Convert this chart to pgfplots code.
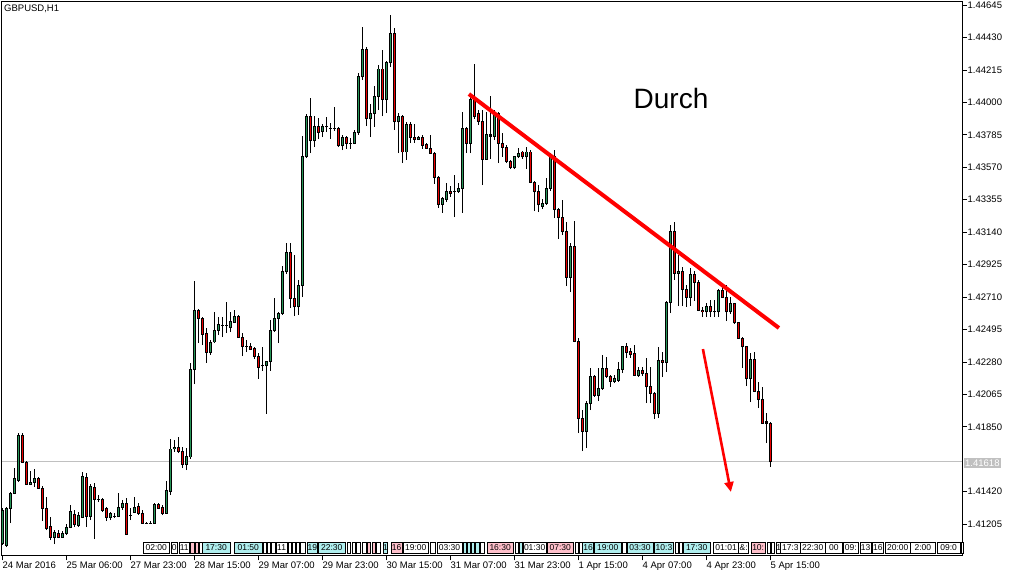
\documentclass[border=0pt]{standalone}
\usepackage{fontspec}
\setmainfont{Liberation Sans}
\usepackage{pgfplots}
\usepackage{pgfplotstable}
\pgfplotsset{compat=1.18}
\usetikzlibrary{arrows.meta}

\definecolor{bull}{RGB}{38,150,88}
\definecolor{bear}{RGB}{235,0,0}
\definecolor{bidgray}{RGB}{192,192,192}
\definecolor{evcyan}{RGB}{175,238,238}
\definecolor{evpink}{RGB}{255,192,203}

% hourly GBPUSD candles: index, open, high, low, close
\pgfplotstableread{
k o h l c
0 1.41080 1.41312 1.41066 1.41298
1 1.41066 1.41318 1.41053 1.41312
2 1.41312 1.41418 1.41212 1.41411
3 1.41411 1.41577 1.41404 1.41510
4 1.41497 1.41809 1.41484 1.41795
5 1.41795 1.41809 1.41610 1.41616
6 1.41616 1.41623 1.41464 1.41471
7 1.41471 1.41557 1.41464 1.41484
8 1.41484 1.41570 1.41451 1.41510
9 1.41510 1.41517 1.41438 1.41444
10 1.41444 1.41457 1.41225 1.41312
11 1.41312 1.41385 1.41166 1.41179
12 1.41192 1.41252 1.41100 1.41119
13 1.41119 1.41166 1.41073 1.41153
14 1.41146 1.41166 1.41113 1.41119
15 1.41119 1.41159 1.41113 1.41146
16 1.41146 1.41206 1.41133 1.41186
17 1.41186 1.41332 1.41179 1.41292
18 1.41272 1.41298 1.41186 1.41206
19 1.41199 1.41285 1.41186 1.41265
20 1.41252 1.41550 1.41245 1.41524
21 1.41517 1.41544 1.41186 1.41259
22 1.41259 1.41471 1.41232 1.41457
23 1.41451 1.41477 1.41106 1.41371
24 1.41371 1.41398 1.41351 1.41371
25 1.41371 1.41378 1.41285 1.41298
26 1.41312 1.41318 1.41225 1.41252
27 1.41252 1.41285 1.41232 1.41278
28 1.41259 1.41278 1.41245 1.41259
29 1.41259 1.41411 1.41252 1.41318
30 1.41318 1.41365 1.41298 1.41345
31 1.41345 1.41378 1.41133 1.41139
32 1.41265 1.41312 1.41232 1.41265
33 1.41285 1.41385 1.41278 1.41318
34 1.41325 1.41345 1.41265 1.41278
35 1.41278 1.41298 1.41212 1.41212
36 1.41212 1.41219 1.41206 1.41212
37 1.41212 1.41225 1.41206 1.41212
38 1.41212 1.41345 1.41212 1.41338
39 1.41338 1.41345 1.41305 1.41312
40 1.41318 1.41332 1.41265 1.41278
41 1.41278 1.41491 1.41278 1.41431
42 1.41424 1.41769 1.41398 1.41703
43 1.41703 1.41762 1.41683 1.41716
44 1.41716 1.41782 1.41676 1.41689
45 1.41689 1.41716 1.41577 1.41603
46 1.41603 1.41709 1.41563 1.41656
47 1.41650 1.42273 1.41636 1.42233
48 1.42233 1.42816 1.42133 1.42624
49 1.42624 1.42630 1.42405 1.42571
50 1.42571 1.42577 1.42392 1.42465
51 1.42471 1.42504 1.42273 1.42345
52 1.42345 1.42425 1.42326 1.42412
53 1.42412 1.42611 1.42405 1.42491
54 1.42491 1.42577 1.42458 1.42531
55 1.42524 1.42577 1.42445 1.42524
56 1.42524 1.42677 1.42471 1.42524
57 1.42511 1.42611 1.42478 1.42551
58 1.42544 1.42624 1.42538 1.42584
59 1.42584 1.42591 1.42445 1.42445
60 1.42445 1.42471 1.42319 1.42385
61 1.42385 1.42425 1.42345 1.42385
62 1.42385 1.42405 1.42359 1.42365
63 1.42372 1.42379 1.42299 1.42319
64 1.42319 1.42339 1.42167 1.42246
65 1.42253 1.42379 1.42220 1.42253
66 1.42253 1.42286 1.41935 1.42286
67 1.42286 1.42558 1.42220 1.42485
68 1.42485 1.42703 1.42478 1.42571
69 1.42571 1.42611 1.42405 1.42604
70 1.42604 1.42915 1.42591 1.42876
71 1.42876 1.43068 1.42862 1.43008
72 1.43002 1.43068 1.42637 1.42697
73 1.42697 1.42988 1.42584 1.42644
74 1.42644 1.42823 1.42591 1.42789
75 1.42789 1.43777 1.42710 1.43638
76 1.43638 1.43923 1.43631 1.43909
77 1.43909 1.44029 1.43664 1.43744
78 1.43744 1.43909 1.43704 1.43843
79 1.43843 1.43896 1.43757 1.43803
80 1.43810 1.43856 1.43770 1.43843
81 1.43837 1.43903 1.43803 1.43837
82 1.43830 1.43863 1.43757 1.43830
83 1.43830 1.43969 1.43810 1.43830
84 1.43830 1.43837 1.43704 1.43711
85 1.43711 1.43784 1.43684 1.43770
86 1.43770 1.43777 1.43691 1.43730
87 1.43730 1.43764 1.43691 1.43730
88 1.43730 1.43817 1.43724 1.43797
89 1.43797 1.44194 1.43784 1.44168
90 1.44168 1.44499 1.44148 1.44347
91 1.44347 1.44367 1.43843 1.43890
92 1.43890 1.43989 1.43770 1.43929
93 1.43929 1.44108 1.43837 1.44042
94 1.44042 1.44247 1.43949 1.44221
95 1.44221 1.44347 1.43909 1.44022
96 1.44022 1.44274 1.43929 1.44261
97 1.44261 1.44579 1.44234 1.44459
98 1.44459 1.44493 1.43817 1.43870
99 1.43870 1.43929 1.43664 1.43903
100 1.43903 1.43916 1.43598 1.43671
101 1.43671 1.43870 1.43618 1.43856
102 1.43856 1.43870 1.43730 1.43770
103 1.43770 1.43856 1.43730 1.43757
104 1.43757 1.43777 1.43750 1.43770
105 1.43770 1.43784 1.43691 1.43717
106 1.43724 1.43730 1.43691 1.43697
107 1.43697 1.43784 1.43658 1.43664
108 1.43664 1.43671 1.43459 1.43505
109 1.43505 1.43512 1.43300 1.43326
110 1.43326 1.43373 1.43267 1.43366
111 1.43359 1.43465 1.43339 1.43412
112 1.43412 1.43446 1.43373 1.43399
113 1.43406 1.43518 1.43240 1.43412
114 1.43412 1.43465 1.43399 1.43432
115 1.43432 1.43936 1.43267 1.43830
116 1.43830 1.43837 1.43664 1.43730
117 1.43730 1.44062 1.43664 1.44022
118 1.44022 1.44254 1.43890 1.43909
119 1.43923 1.43949 1.43850 1.43876
120 1.43876 1.43949 1.43452 1.43624
121 1.43624 1.43936 1.43618 1.43784
122 1.43777 1.44042 1.43624 1.43784
123 1.43777 1.43949 1.43750 1.43923
124 1.43923 1.43936 1.43598 1.43730
125 1.43730 1.43797 1.43638 1.43704
126 1.43704 1.43717 1.43598 1.43611
127 1.43611 1.43618 1.43558 1.43571
128 1.43565 1.43644 1.43558 1.43638
129 1.43638 1.43697 1.43631 1.43664
130 1.43671 1.43677 1.43624 1.43638
131 1.43638 1.43704 1.43558 1.43671
132 1.43671 1.43684 1.43465 1.43472
133 1.43472 1.43479 1.43280 1.43406
134 1.43406 1.43452 1.43273 1.43320
135 1.43313 1.43359 1.43293 1.43333
136 1.43333 1.43499 1.43320 1.43432
137 1.43432 1.43664 1.43412 1.43638
138 1.43638 1.43684 1.43233 1.43293
139 1.43293 1.43300 1.43094 1.43240
140 1.43240 1.43353 1.43121 1.43141
141 1.43141 1.43207 1.42783 1.42842
142 1.42842 1.43068 1.42743 1.43048
143 1.43048 1.43214 1.42412 1.42418
144 1.42418 1.42438 1.41809 1.41908
145 1.41908 1.41961 1.41689 1.41822
146 1.41822 1.42021 1.41709 1.42007
147 1.42007 1.42239 1.41961 1.42186
148 1.42186 1.42193 1.42047 1.42060
149 1.42060 1.42239 1.42021 1.42107
150 1.42107 1.42326 1.42094 1.42239
151 1.42239 1.42312 1.42173 1.42186
152 1.42186 1.42193 1.42114 1.42153
153 1.42153 1.42193 1.42140 1.42173
154 1.42160 1.42279 1.42147 1.42233
155 1.42233 1.42385 1.42206 1.42379
156 1.42379 1.42405 1.42306 1.42345
157 1.42352 1.42372 1.42306 1.42326
158 1.42339 1.42392 1.42186 1.42193
159 1.42193 1.42246 1.42180 1.42220
160 1.42226 1.42246 1.42186 1.42200
161 1.42206 1.42306 1.42007 1.42114
162 1.42114 1.42246 1.42007 1.42074
163 1.42074 1.42080 1.41901 1.41935
164 1.41935 1.42379 1.41908 1.42292
165 1.42292 1.42345 1.42180 1.42279
166 1.42279 1.42683 1.42213 1.42677
167 1.42677 1.43187 1.42604 1.43141
168 1.43141 1.43207 1.42823 1.42869
169 1.42869 1.42988 1.42650 1.42882
170 1.42882 1.42909 1.42650 1.42763
171 1.42763 1.42789 1.42644 1.42710
172 1.42710 1.42902 1.42650 1.42862
173 1.42862 1.42882 1.42683 1.42809
174 1.42809 1.42823 1.42617 1.42624
175 1.42624 1.42644 1.42577 1.42611
176 1.42611 1.42670 1.42577 1.42644
177 1.42650 1.42690 1.42577 1.42611
178 1.42611 1.42690 1.42577 1.42611
179 1.42611 1.42763 1.42577 1.42750
180 1.42750 1.42783 1.42703 1.42710
181 1.42710 1.42789 1.42551 1.42611
182 1.42611 1.42710 1.42597 1.42664
183 1.42664 1.42670 1.42531 1.42538
184 1.42538 1.42544 1.42432 1.42438
185 1.42438 1.42445 1.42239 1.42379
186 1.42379 1.42385 1.42120 1.42167
187 1.42167 1.42339 1.42014 1.42299
188 1.42299 1.42345 1.42087 1.42087
189 1.42087 1.42147 1.41974 1.42034
190 1.42034 1.42114 1.41875 1.41875
191 1.41882 1.41941 1.41742 1.41875
192 1.41875 1.41882 1.41583 1.41618
}\candles

% calendar event labels along the bottom: left x (px), width (px), fill, text
\newcommand{\evt}[4]{\node[draw=black, line width=0.6pt, fill=#3, minimum width=#2pt,
  minimum height=11pt, inner sep=0pt, anchor=west,
  font=\fontsize{8.5}{9}\selectfont] at (#1pt,30.5pt) {#4};}

\begin{document}
\begin{tikzpicture}
\useasboundingbox (0,0) rectangle (1017pt,578pt);
\begin{axis}[
  at={(2pt,22pt)}, anchor=south west,
  scale only axis, width=960pt, height=554pt,
  xmin=-0.125, xmax=239.875,
  ymin=1.40994, ymax=1.44665,
  axis line style={black, line width=1pt},
  tick align=outside,
  major tick length=4.5pt,
  major tick style={black, line width=0.8pt},
  xtick pos=bottom, ytick pos=right,
  yticklabel pos=right,
  xtick={0,16,...,192},
  xticklabels={24 Mar 2016, 25 Mar 06:00, 27 Mar 23:00, 28 Mar 15:00,
    29 Mar 07:00, 29 Mar 23:00, 30 Mar 15:00, 31 Mar 07:00, 31 Mar 23:00,
    1 Apr 15:00, 4 Apr 07:00, 4 Apr 23:00, 5 Apr 15:00},
  xticklabel style={anchor=north west, inner xsep=0pt, inner ysep=1pt,
    font=\fontsize{9.5}{10}\selectfont},
  ytick={1.41205,1.41420,1.41850,1.42065,1.42280,1.42495,1.42710,
    1.42925,1.43140,1.43355,1.43570,1.43785,1.44000,1.44215,1.44430,1.44645},
  yticklabels={1.41205,1.41420,1.41850,1.42065,1.42280,1.42495,1.42710,
    1.42925,1.43140,1.43355,1.43570,1.43785,1.44000,1.44215,1.44430,1.44645},
  yticklabel style={anchor=west, inner xsep=1pt,
    font=\fontsize{9.5}{10}\selectfont},
  scaled y ticks=false,
  grid=none,
  error bars/error mark=none,
]
% bid line
\addplot[bidgray, line width=1pt] coordinates {(-0.125,1.41618) (239.875,1.41618)};
% wicks
\addplot[draw=none, mark=none,
  error bars/.cd, y dir=plus, y explicit,
  error bar style={draw=black, line width=1pt}]
  table[x=k, y=l, y error expr=\thisrow{h}-\thisrow{l}] {\candles};
% body outlines
\addplot[draw=none, mark=none,
  error bars/.cd, y dir=plus, y explicit,
  error bar style={draw=black, line width=2.8pt}]
  table[x=k, y expr={min(\thisrow{o},\thisrow{c})-0.000033},
    y error expr={abs(\thisrow{c}-\thisrow{o})+0.000066}] {\candles};
% bullish fill
\addplot[draw=none, mark=none, restrict y to domain=1.3:1.5,
  error bars/.cd, y dir=plus, y explicit,
  error bar style={draw=bull, line width=1.1pt}]
  table[x=k, y expr={(\thisrow{c}-\thisrow{o}>0.0001) ? \thisrow{o}+0.000033 : 0},
    y error expr={\thisrow{c}-\thisrow{o}-0.000066}] {\candles};
% bearish fill
\addplot[draw=none, mark=none, restrict y to domain=1.3:1.5,
  error bars/.cd, y dir=plus, y explicit,
  error bar style={draw=bear, line width=1.1pt}]
  table[x=k, y expr={(\thisrow{o}-\thisrow{c}>0.0001) ? \thisrow{c}+0.000033 : 0},
    y error expr={\thisrow{o}-\thisrow{c}-0.000066}] {\candles};
% trend line and arrow
\addplot[red, line width=4pt] coordinates {(116.6,1.44055) (194.1,1.42505)};
\addplot[red, line width=2.6pt, -{Triangle[length=10pt, width=9pt]}]
  coordinates {(175.1,1.42365) (182.1,1.41418)};
\end{axis}

\node[anchor=north west, inner sep=0pt, font=\fontsize{9.5}{10}\selectfont]
  at (4pt,573.5pt) {GBPUSD,H1};
\node[font=\fontsize{28}{30}\selectfont] at (671pt,480pt) {Durch};
\node[anchor=west, fill=bidgray, text=white, inner xsep=1.5pt, inner ysep=1.5pt,
  font=\fontsize{9.5}{10}\selectfont] at (963.5pt,115pt) {1.41618};

\evt{142.7}{26.6}{white}{02:00}
\evt{170.7}{6.6}{white}{0}
\evt{179}{10}{white}{11}
\evt{190}{3.5}{evpink}{}
\evt{194.5}{3.5}{evpink}{}
\evt{199}{2.5}{white}{}
\evt{201.7}{28.3}{evcyan}{17:30}
\evt{234.3}{27.4}{evcyan}{01:50}
\evt{263}{3}{white}{}
\evt{267}{3}{white}{}
\evt{271}{4}{white}{}
\evt{276}{10.7}{white}{11}
\evt{288}{3}{white}{}
\evt{292}{3}{white}{}
\evt{296}{3}{white}{}
\evt{300}{5}{white}{}
\evt{306.7}{10.6}{evcyan}{19}
\evt{318}{27}{evcyan}{22:30}
\evt{347}{3}{white}{}
\evt{352}{3}{white}{}
\evt{356}{4}{white}{}
\evt{362}{4}{white}{}
\evt{367}{3}{evpink}{}
\evt{372}{3}{evpink}{}
\evt{376}{4}{white}{}
\evt{382.7}{4}{evcyan}{1}
\evt{391}{10.7}{evpink}{16}
\evt{402.7}{25.6}{white}{19:00}
\evt{430}{5}{white}{}
\evt{436.7}{25}{white}{03:30}
\evt{463}{3}{evcyan}{}
\evt{467}{3}{evcyan}{}
\evt{471}{3}{evcyan}{}
\evt{475}{4}{evcyan}{}
\evt{480}{4}{white}{}
\evt{486.7}{26.3}{evpink}{16:30}
\evt{515}{3}{white}{}
\evt{519}{3}{evcyan}{}
\evt{522.7}{23.3}{white}{01:30}
\evt{546.7}{26.6}{evpink}{07:30}
\evt{575}{3}{white}{}
\evt{579}{3}{white}{}
\evt{582.3}{11}{evcyan}{16}
\evt{594.3}{26.4}{evcyan}{19:00}
\evt{622}{4}{white}{}
\evt{626.7}{26}{evcyan}{03:30}
\evt{654}{19.3}{evcyan}{10:3}
\evt{675}{3}{white}{}
\evt{679}{3}{white}{}
\evt{682.7}{27.3}{evcyan}{17:30}
\evt{713.3}{25}{white}{01:01}
\evt{738.3}{10}{white}{\&:}
\evt{750.7}{14.3}{evpink}{10:}
\evt{767}{3}{white}{}
\evt{771}{3}{white}{}
\evt{776}{4}{white}{1}
\evt{780}{20}{white}{17:3}
\evt{800}{25}{white}{22:30}
\evt{825}{17}{white}{00}
\evt{843}{15}{white}{09:}
\evt{860}{10.5}{white}{13}
\evt{871.7}{11.6}{white}{16}
\evt{885}{25}{white}{20:00}
\evt{910}{25}{white}{2:00}
\evt{936.7}{23.3}{white}{09:0}
\evt{961}{2}{white}{}
\end{tikzpicture}
\end{document}
